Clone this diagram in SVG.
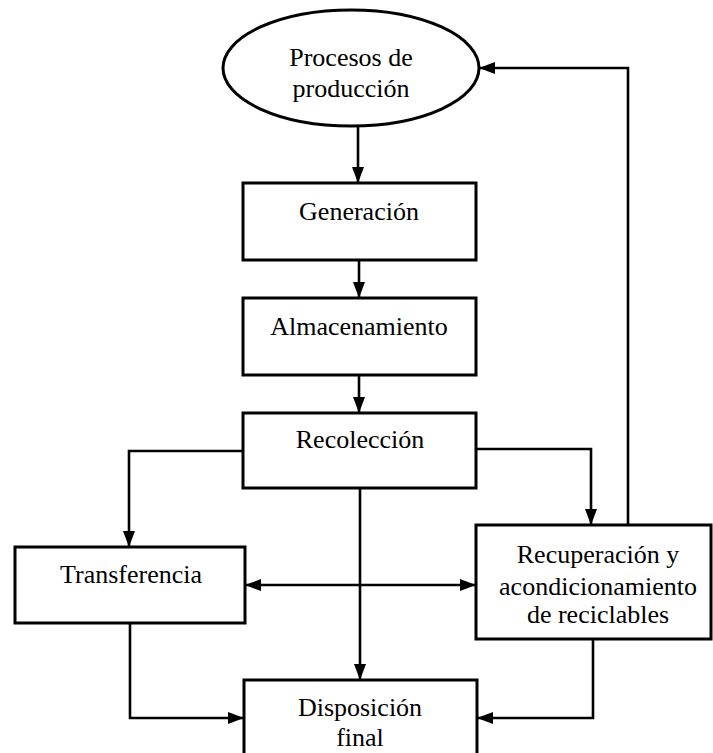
<svg xmlns="http://www.w3.org/2000/svg" width="713" height="753" viewBox="0 0 713 753">
<style>
.box{fill:#fff;stroke:#000;stroke-width:3}
.lbl{font-family:"Liberation Serif","Times New Roman",serif;font-size:26px;fill:#000;text-anchor:middle}
.con{fill:none;stroke:#000;stroke-width:2.6}
</style>
<defs>
<marker id="ah" markerUnits="userSpaceOnUse" markerWidth="16" markerHeight="12" refX="16" refY="6" orient="auto-start-reverse" viewBox="0 0 16 12">
<path d="M0,0 L16,6 L0,12 z" fill="#000"/>
</marker>
</defs>
<rect width="713" height="753" fill="#fff"/>
<g id="connectors">
<path class="con" d="M358,126 V183" marker-end="url(#ah)"/>
<path class="con" d="M359,260 V298" marker-end="url(#ah)"/>
<path class="con" d="M359,375 V413" marker-end="url(#ah)"/>
<path class="con" d="M243,451 H129 V547" marker-end="url(#ah)"/>
<path class="con" d="M476,449 H591 V525" marker-end="url(#ah)"/>
<path class="con" d="M360,488 V680" marker-end="url(#ah)"/>
<path class="con" d="M245,585 H476" marker-start="url(#ah)" marker-end="url(#ah)"/>
<path class="con" d="M130,623 V718 H244" marker-end="url(#ah)"/>
<path class="con" d="M593,639 V718 H477" marker-end="url(#ah)"/>
<path class="con" d="M628,525 V68 H479" marker-end="url(#ah)"/>
</g>
<g id="procesos">
<ellipse class="box" cx="351" cy="68" rx="128" ry="58"/>
<text class="lbl" x="351" y="66">Procesos de</text>
<text class="lbl" x="351" y="97">producción</text>
</g>
<g id="generacion">
<rect class="box" x="243" y="183" width="233" height="77"/>
<text class="lbl" x="359" y="220">Generación</text>
</g>
<g id="almacenamiento">
<rect class="box" x="243" y="298" width="233" height="77"/>
<text class="lbl" x="359" y="335">Almacenamiento</text>
</g>
<g id="recoleccion">
<rect class="box" x="243" y="413" width="233" height="75"/>
<text class="lbl" x="360" y="448">Recolección</text>
</g>
<g id="transferencia">
<rect class="box" x="15" y="547" width="230" height="76"/>
<text class="lbl" x="131" y="583">Transferencia</text>
</g>
<g id="recuperacion">
<rect class="box" x="476" y="525" width="235" height="114"/>
<text class="lbl" x="598" y="563">Recuperación y</text>
<text class="lbl" x="598" y="595">acondicionamiento</text>
<text class="lbl" x="598" y="623">de reciclables</text>
</g>
<g id="disposicion">
<rect class="box" x="244" y="680" width="233" height="80"/>
<text class="lbl" x="360" y="716">Disposición</text>
<text class="lbl" x="360" y="746">final</text>
</g>
</svg>
